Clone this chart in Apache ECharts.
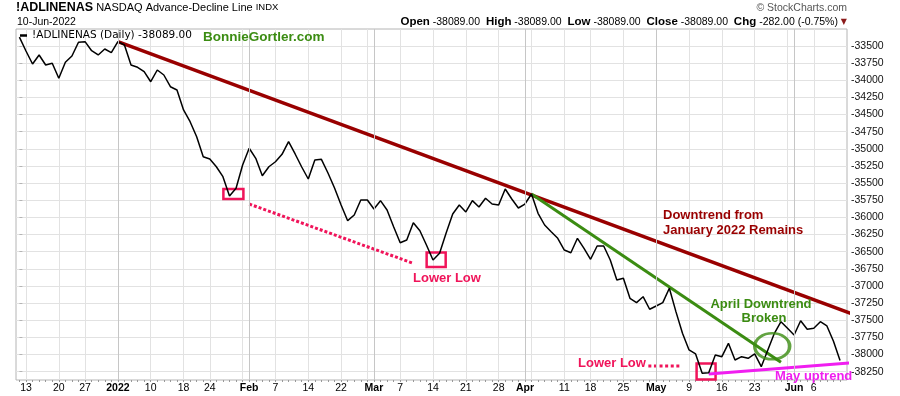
<!DOCTYPE html>
<html><head><meta charset="utf-8">
<script src="https://cdn.jsdelivr.net/npm/echarts@6.0.0/dist/echarts.min.js"></script>
<style>html,body{margin:0;padding:0;background:#fff}#c{width:900px;height:396px}</style>
</head><body><div id="c"></div>
<script>
const FONT = '"Liberation Sans", Arial, Helvetica, sans-serif';

// ---- calendar (trading days) ----
const firstDay = '2021-12-10';
const lastDay = '2022-06-10';
const holidays = ['2021-12-24', '2022-01-17', '2022-02-21', '2022-04-15', '2022-05-30'];

// ---- series values (NASDAQ A/D line, daily close) ----
const adValues = [
  -33370, -33573, -33763, -33631, -33777, -33752, -33971, -33738, -33646, -33446,
  -33437, -33569, -33631, -33544, -33598, -33437, -33485, -33777, -33811, -33875,
  -34021, -33850, -33923, -34094, -34142, -34433, -34604, -34823, -35115, -35148,
  -35261, -35406, -35688, -35576, -35236, -34992, -35138, -35392, -35261, -35188,
  -35080, -34896, -35075, -35265, -35440, -35163, -35153, -35352, -35571, -35819,
  -36048, -35965, -35746, -35746, -35877, -35756, -35892, -36136, -36369, -36330,
  -36077, -36194, -36403, -36621, -36524, -36228, -35950, -35819, -35921, -35756,
  -35848, -35721, -35805, -35819, -35586, -35732, -35863, -35805, -35659, -35940,
  -36111, -36209, -36305, -36476, -36515, -36305, -36451, -36611, -36417, -36417,
  -36621, -36913, -36888, -37180, -37244, -37157, -37340, -37292, -37244, -37034,
  -37375, -37691, -37934, -37992, -38274, -38265, -38007, -38032, -37837, -38080,
  -38032, -38055, -37992, -38178, -37934, -37691, -37522, -37618, -37715, -37507,
  -37632, -37618, -37522, -37584, -37807, -38089
];

// ---- tick labels ----
const yTickValues = [-38250, -38000, -37750, -37500, -37250, -37000, -36750, -36500, -36250, -36000,
  -35750, -35500, -35250, -35000, -34750, -34500, -34250, -34000, -33750, -33500];
const xLabelDates = ['2021-12-13', '2021-12-20', '2021-12-27', '2022-01-03', '2022-01-10', '2022-01-18', '2022-01-24',
  '2022-02-01', '2022-02-07', '2022-02-14', '2022-02-22', '2022-03-01', '2022-03-07', '2022-03-14', '2022-03-21',
  '2022-03-28', '2022-04-01', '2022-04-11', '2022-04-18', '2022-04-25', '2022-05-02', '2022-05-09', '2022-05-16',
  '2022-05-23', '2022-06-01', '2022-06-06'];
const xLabelTexts = ['13', '20', '27', '2022', '10', '18', '24', 'Feb', '7', '14', '22', 'Mar', '7', '14', '21',
  '28', 'Apr', '11', '18', '25', 'May', '9', '16', '23', 'Jun', '6'];
const boldLabelTexts = ['2022', 'Feb', 'Mar', 'Apr', 'May', 'Jun'];
const weekLineDates = ['2021-12-13', '2021-12-20', '2021-12-27', '2022-01-03', '2022-01-10', '2022-01-18', '2022-01-24',
  '2022-01-31', '2022-02-07', '2022-02-14', '2022-02-22', '2022-02-28', '2022-03-07', '2022-03-14', '2022-03-21',
  '2022-03-28', '2022-04-04', '2022-04-11', '2022-04-18', '2022-04-25', '2022-05-02', '2022-05-09', '2022-05-16',
  '2022-05-23', '2022-05-31', '2022-06-06'];
const monthLineDates = ['2022-01-03', '2022-02-01', '2022-03-01', '2022-04-01', '2022-05-02', '2022-06-01'];

// ---- annotation anchors, in (trading-day index, value) ----
const janTrendIdx = [15, 132.8];
const janTrendVal = [-33437, -37618];
const aprTrendIdx = [78, 116.0];
const aprTrendVal = [-35659, -38114];
const mayTrendIdx = [105.0, 126.9];
const mayTrendVal = [-38284, -38121];
const lowerLow1Idx = [35.0, 60.0];
const lowerLow1Val = [-35805, -36670];
const lowerLow2Idx = [95.8, 100.9];
const lowerLow2Val = [-38168, -38168];
const boxIdx = [[31.07, 34.12], [62.03, 64.93], [103.15, 106.04]];
const boxVal = [[-35586, -35732], [-36512, -36724], [-38131, -38364]];
const breakIdx = [114.67];
const breakVal = [-37880];

function buildDates() {
  const out = [];
  let d = new Date(firstDay + 'T00:00:00Z');
  const end = new Date(lastDay + 'T00:00:00Z');
  while (d <= end) {
    const dow = d.getUTCDay();
    const s = d.toISOString().slice(0, 10);
    if (dow !== 0 && dow !== 6 && holidays.indexOf(s) < 0) out.push(s);
    d = new Date(d.getTime() + 86400000);
  }
  return out;
}
const tradingDates = buildDates();
const idxOf = s => tradingDates.indexOf(s);
const xLabelIdx = xLabelDates.map(idxOf);
const weekIdx = weekLineDates.map(idxOf);
const monthIdx = monthLineDates.map(idxOf);
const allIdx = tradingDates.map((d, i) => i);

const pairs = (xs, ys) => xs.map((x, i) => [x, ys[i]]);
const mainData = adValues.map((v, i) => [i, v]);

const n = adValues.length;
const closeV = adValues[n - 1], prevV = adValues[n - 2];
const chg = closeV - prevV;
const pct = chg / Math.abs(prevV) * 100;
const fmt = v => v.toFixed(2);
const mon = ['Jan','Feb','Mar','Apr','May','Jun','Jul','Aug','Sep','Oct','Nov','Dec'];
const ld = tradingDates[n - 1].split('-');
const dateText = ld[2] + '-' + mon[+ld[1] - 1] + '-' + ld[0];

const RED = '#990000', GREEN = '#3b8c12', PINK = '#f0145a', MAGENTA = '#f01ef0';
const XMIN = -0.52, XMAX = 126.06, YMIN = -38372, YMAX = -33252;

const chart = echarts.init(document.getElementById('c'), null, { renderer: 'canvas' });
chart.setOption({
  animation: false,
  backgroundColor: '#fff',
  textStyle: { fontFamily: FONT },
  title: [
    { text: '{a|!ADLINENAS} {b|NASDAQ Advance-Decline Line} {c|INDX}', left: 16, top: 1, padding: 0,
      textStyle: { fontSize: 11, fontWeight: 'normal', fontFamily: FONT, rich: {
        a: { fontSize: 12.5, fontWeight: 'bold', color: '#000', fontFamily: FONT },
        b: { fontSize: 11, fontWeight: 'normal', color: '#000', fontFamily: FONT },
        c: { fontSize: 9.5, fontWeight: 'normal', color: '#000', fontFamily: FONT } } } },
    { text: dateText, left: 17, top: 17, padding: 0,
      textStyle: { fontSize: 10.5, fontWeight: 'normal', color: '#000', fontFamily: FONT } },
    { text: '\u00A9 StockCharts.com', right: 53, top: 3, padding: 0,
      textStyle: { fontSize: 10.5, fontWeight: 'normal', color: '#555', fontFamily: FONT } },
    { text: '{l|Open} {n|' + fmt(closeV) + '}  {l|High} {n|' + fmt(closeV) + '}  {l|Low} {n|' + fmt(closeV) +
        '}  {l|Close} {n|' + fmt(closeV) + '}  {l|Chg} {n|' + fmt(chg) + ' (' + pct.toFixed(2) + '%)} {t|\u25BC}',
      right: 53, top: 16, padding: 0,
      textStyle: { fontSize: 10.5, fontWeight: 'normal', fontFamily: FONT, rich: {
        l: { fontSize: 11.5, fontWeight: 'bold', color: '#000', fontFamily: FONT },
        n: { fontSize: 10.5, fontWeight: 'normal', color: '#000', fontFamily: FONT },
        t: { fontSize: 8, fontWeight: 'normal', color: '#8b1a1a', fontFamily: '"DejaVu Sans", sans-serif' } } } }
  ],
  legend: {
    data: ['!ADLINENAS (Daily)'], left: 20, top: 30, padding: 0,
    icon: 'rect', itemWidth: 7, itemHeight: 2.5,
    formatter: name => name + ' ' + fmt(closeV),
    textStyle: { fontFamily: '"DejaVu Sans", sans-serif', fontSize: 10.5, color: '#000' },
    selectedMode: false
  },
  grid: { left: 16, right: 53, top: 29, bottom: 16, show: true, borderColor: '#b4b4b4', borderWidth: 1,
    backgroundColor: 'transparent', containLabel: false },
  xAxis: [
    { type: 'value', min: XMIN, max: XMAX, position: 'bottom',
      axisLine: { show: false },
      axisTick: { show: true, customValues: allIdx, length: 2, lineStyle: { color: '#999', width: 1 } },
      axisLabel: { show: true, customValues: xLabelIdx, margin: 3, fontSize: 10.5, color: '#000', fontFamily: FONT,
        formatter: v => {
          const k = xLabelIdx.indexOf(Math.round(v));
          if (k < 0) return '';
          const t = xLabelTexts[k];
          return boldLabelTexts.indexOf(t) >= 0 ? '{b|' + t + '}' : t;
        },
        rich: { b: { fontWeight: 'bold', fontSize: 10.5, color: '#000', fontFamily: FONT } } },
      splitLine: { show: false } },
    { type: 'value', min: XMIN, max: XMAX, position: 'top',
      axisLine: { show: false },
      axisTick: { show: false, customValues: weekIdx },
      axisLabel: { show: false, customValues: weekIdx },
      splitLine: { show: true, lineStyle: { color: '#e2e2e2', width: 1 } } }
  ],
  yAxis: {
    type: 'value', min: YMIN, max: YMAX, position: 'right',
    axisLine: { show: false },
    axisTick: { show: true, customValues: yTickValues, length: 3, lineStyle: { color: '#b4b4b4' } },
    axisLabel: { show: true, customValues: yTickValues, margin: 4, fontSize: 10.5, color: '#111', fontFamily: FONT,
      formatter: v => String(v) },
    splitLine: { show: true, lineStyle: { color: '#e2e2e2', width: 1 } }
  },
  series: [
    { name: 'monthLines', type: 'line', data: [], z: 1, silent: true,
      markLine: { silent: true, symbol: ['none', 'none'], label: { show: false },
        lineStyle: { color: '#c6c6c6', width: 1, type: 'solid' },
        data: monthIdx.map(i => ({ xAxis: i })) } },
    { name: 'janTrend', type: 'line', data: pairs(janTrendIdx, janTrendVal), clip: false, z: 3,
      showSymbol: false, silent: true, lineStyle: { color: RED, width: 3.5 } },
    { name: 'aprTrend', type: 'line', data: pairs(aprTrendIdx, aprTrendVal), clip: false, z: 3,
      showSymbol: false, silent: true, lineStyle: { color: GREEN, width: 3 } },
    { name: 'mayTrend', type: 'line', data: pairs(mayTrendIdx, mayTrendVal), clip: false, z: 3,
      showSymbol: false, silent: true, lineStyle: { color: MAGENTA, width: 3 } },
    { name: 'lowerLow1', type: 'line', data: pairs(lowerLow1Idx, lowerLow1Val), clip: false, z: 3,
      showSymbol: false, silent: true, lineStyle: { color: PINK, width: 3, type: [3, 2] } },
    { name: 'lowerLow2', type: 'line', data: pairs(lowerLow2Idx, lowerLow2Val), clip: false, z: 3,
      showSymbol: false, silent: true, lineStyle: { color: PINK, width: 3, type: [3, 2.6] } },
    { name: 'breakCircle', type: 'scatter', data: pairs(breakIdx, breakVal), z: 5, silent: true,
      symbol: 'circle', symbolSize: [35, 26],
      itemStyle: { color: 'rgba(0,0,0,0)', borderColor: GREEN, borderWidth: 3 } },
    { name: '!ADLINENAS (Daily)', type: 'line', data: mainData, z: 4, showSymbol: false, clip: false,
      lineStyle: { color: '#000', width: 1.5 }, itemStyle: { color: '#000' },
      markArea: { silent: true,
        itemStyle: { color: 'rgba(0,0,0,0)', borderColor: PINK, borderWidth: 2.5 },
        data: boxIdx.map((bx, i) => [{ coord: [bx[0], boxVal[i][0]] }, { coord: [bx[1], boxVal[i][1]] }]) } }
  ],
  graphic: [
    { type: 'text', z: 100, style: { text: 'BonnieGortler.com', x: 203, y: 37, fill: GREEN,
      font: 'bold 13.5px ' + FONT, textVerticalAlign: 'middle', verticalAlign: 'middle' } },
    { type: 'text', z: 100, style: { text: 'Lower Low', x: 413, y: 278, fill: PINK,
      font: 'bold 13px ' + FONT, textVerticalAlign: 'middle', verticalAlign: 'middle' } },
    { type: 'text', z: 100, style: { text: 'Lower Low', x: 578, y: 363, fill: PINK,
      font: 'bold 13px ' + FONT, textVerticalAlign: 'middle', verticalAlign: 'middle' } },
    { type: 'text', z: 100, style: { text: 'Downtrend from', x: 663, y: 215, fill: RED,
      font: 'bold 13px ' + FONT, textVerticalAlign: 'middle', verticalAlign: 'middle' } },
    { type: 'text', z: 100, style: { text: 'January 2022 Remains', x: 663, y: 230, fill: RED,
      font: 'bold 13px ' + FONT, textVerticalAlign: 'middle', verticalAlign: 'middle' } },
    { type: 'text', z: 100, style: { text: 'April Downtrend', x: 761, y: 304, fill: GREEN,
      font: 'bold 13px ' + FONT, textAlign: 'center', align: 'center', textVerticalAlign: 'middle', verticalAlign: 'middle' } },
    { type: 'text', z: 100, style: { text: 'Broken', x: 764, y: 318, fill: GREEN,
      font: 'bold 13px ' + FONT, textAlign: 'center', align: 'center', textVerticalAlign: 'middle', verticalAlign: 'middle' } },
    { type: 'text', z: 100, style: { text: 'May uptrend', x: 775, y: 376, fill: MAGENTA,
      font: 'bold 13px ' + FONT, textVerticalAlign: 'middle', verticalAlign: 'middle' } }
  ]
});
</script>
</body></html>
